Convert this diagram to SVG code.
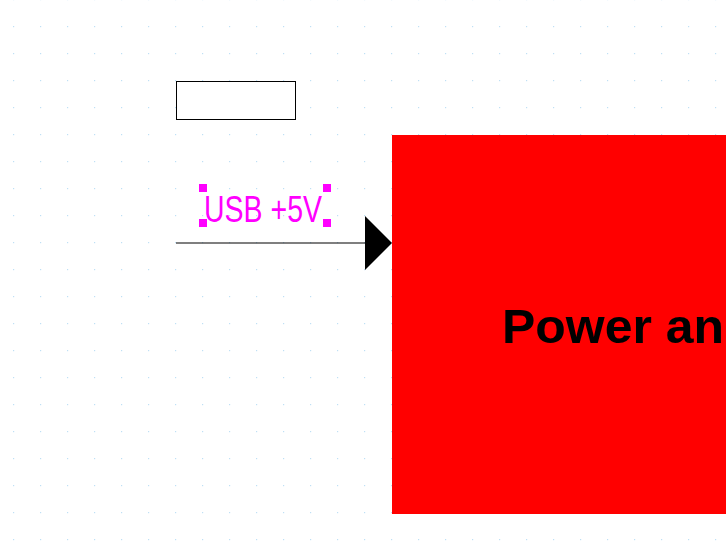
<svg xmlns="http://www.w3.org/2000/svg" width="726" height="558" viewBox="0 0 726 558">
<defs>
<pattern id="grid" x="13" y="-1" width="27" height="27" patternUnits="userSpaceOnUse"><rect x="0" y="0" width="1.2" height="1.2" fill="#bfe0f5"/></pattern>
<style>.h{fill:#ff00ff}</style>
</defs>
<rect width="726" height="558" fill="#fff"/>
<rect width="726" height="558" fill="url(#grid)"/>
<g id="box"><rect x="176.5" y="81.5" width="119" height="38" fill="#fff" stroke="#000"/></g>
<g id="power"><rect x="392" y="135" width="340" height="379" fill="#ff0000"/>
<text x="502" y="343" font-family="Liberation Sans, Arial, sans-serif" font-weight="bold" font-size="48" fill="#000" textLength="222" lengthAdjust="spacingAndGlyphs">Power an</text></g>
<g id="connectors">
<line x1="176" y1="243" x2="366" y2="243" stroke="#000" stroke-width="1.2"/>
<polygon points="365,216 392,243 365,270" fill="#000"/>
</g>
<g id="label">
<text x="204" y="222" font-family="Liberation Sans, Arial, sans-serif" font-size="36" fill="#ff00ff" textLength="118" lengthAdjust="spacingAndGlyphs">USB +5V</text>
<rect class="h" x="199" y="184" width="8" height="8"/><rect class="h" x="323" y="184" width="8" height="8"/>
<rect class="h" x="199" y="219" width="8" height="8"/><rect class="h" x="323" y="219" width="8" height="8"/>
</g>
</svg>
